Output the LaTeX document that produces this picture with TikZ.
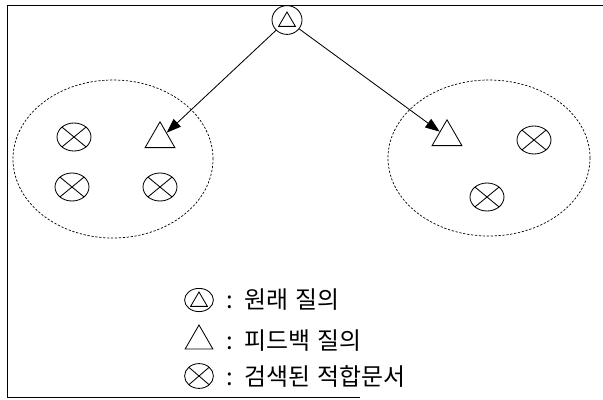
\documentclass[tikz,border=0pt]{standalone}
\usepackage{fontspec}
\newfontfamily\kfont{Noto Sans CJK KR}
\usetikzlibrary{arrows.meta,positioning,shapes.geometric}

\begin{document}
\begin{tikzpicture}[>={Triangle[length=3.6mm,width=2.6mm]},every node/.style={font=\kfont\fontsize{17}{19}\selectfont}]
\tikzstyle{cluster}=[draw,ellipse,line width=0.5pt,dash pattern=on 1.6pt off 1.2pt,inner sep=0pt]
\tikzstyle{doc}=[draw,ellipse,semithick,inner sep=0pt,minimum width=0.85cm,minimum height=0.7cm,path picture={\draw (path picture bounding box.north west)--(path picture bounding box.south east) (path picture bounding box.south west)--(path picture bounding box.north east);}]
\tikzstyle{fbq}=[draw,regular polygon,regular polygon sides=3,semithick,inner sep=0pt,minimum size=0.86cm]
\tikzstyle{origq}=[draw,ellipse,semithick,inner sep=0pt,minimum width=0.75cm,minimum height=0.72cm,path picture={\draw[shift={(path picture bounding box.center)}] (-0.21,-0.16)--(0.21,-0.16)--(0,0.2)--cycle;}]
\tikzstyle{lbl}=[inner sep=0pt,anchor=west]
\useasboundingbox (0,0) rectangle (15.075,9.975);
% frame
\draw[semithick] (15.075,9.85) -- (0.175,9.85) -- (0.175,0.05) -- (9.0,0.05);
% clusters
\node[cluster,minimum width=5cm,minimum height=3.95cm] (cl) at (2.825,6.0) {};
\node[cluster,minimum width=5.05cm,minimum height=3.9cm] (cr) at (12.225,6.025) {};
% original query
\node[origq] (oq) at (7.175,9.475) {};
% left cluster
\node[fbq] (fl) at (4.0,6.5) {};
\node[doc] (dl1) at (1.85,6.55) {};
\node[doc] (dl2) at (1.8,5.3) {};
\node[doc] (dl3) at (4.0,5.3) {};
% right cluster
\node[fbq] (fr) at (11.175,6.55) {};
\node[doc] (dr1) at (13.35,6.475) {};
\node[doc] (dr2) at (12.175,5.05) {};
\draw[->,semithick] (oq) -- (fl);
\draw[->,semithick] (oq) -- (fr);
% legend
\node[origq,minimum width=0.72cm,minimum height=0.58cm] (lq) at (4.975,2.475) {};
\node[fbq,minimum size=0.8cm] (lf) at (4.975,1.45) {};
\node[doc,minimum width=0.72cm,minimum height=0.62cm] (ld) at (4.975,0.575) {};
\node[lbl,right=0.3cm of lq] (lqt) {:\enspace 원래\hspace{0.3em}질의};
\node[lbl] (lft) at (lf.east -| lqt.west) {:\enspace 피드백\hspace{0.3em}질의};
\node[lbl] (ldt) at (ld.east -| lqt.west) {:\enspace 검색된\hspace{0.3em}적합문서};
\end{tikzpicture}
\end{document}
